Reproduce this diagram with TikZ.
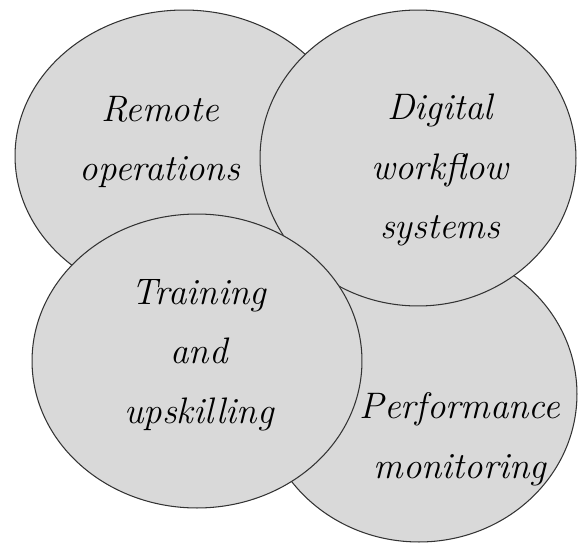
\documentclass[tikz,border=0pt]{standalone}
\usetikzlibrary{shapes.geometric}

\begin{document}
\begin{tikzpicture}[x=0.02cm, y=-0.02cm,
    bubble/.style={ellipse, draw=black!80, fill=gray!30, line width=0.6pt, inner sep=0pt},
    bubbletext/.style={align=center, font=\fontsize{21}{34}\selectfont\itshape}]
      \useasboundingbox (0, 0) rectangle (578, 544);

      % back to front
      \node[bubble, minimum width=6.76cm, minimum height=5.84cm] (remote) at (184, 156) {};
      \node[bubble, minimum width=6.32cm, minimum height=5.92cm] (perf) at (419, 394) {};
      \node[bubble, minimum width=6.32cm, minimum height=5.92cm] (digital) at (418, 158) {};
      \node[bubble, minimum width=6.6cm, minimum height=5.88cm] (training) at (197, 361) {};

      \node[bubbletext] (remotetxt) at (160, 142) {Remote\\operations};
      \node[bubbletext] (digitaltxt) at (440, 170) {Digital\\workflow\\systems};
      \node[bubbletext] (trainingtxt) at (199, 355) {Training\\and\\upskilling};
      \node[bubbletext] (perftxt) at (460, 439) {Performance\\monitoring};
    \end{tikzpicture}
\end{document}
